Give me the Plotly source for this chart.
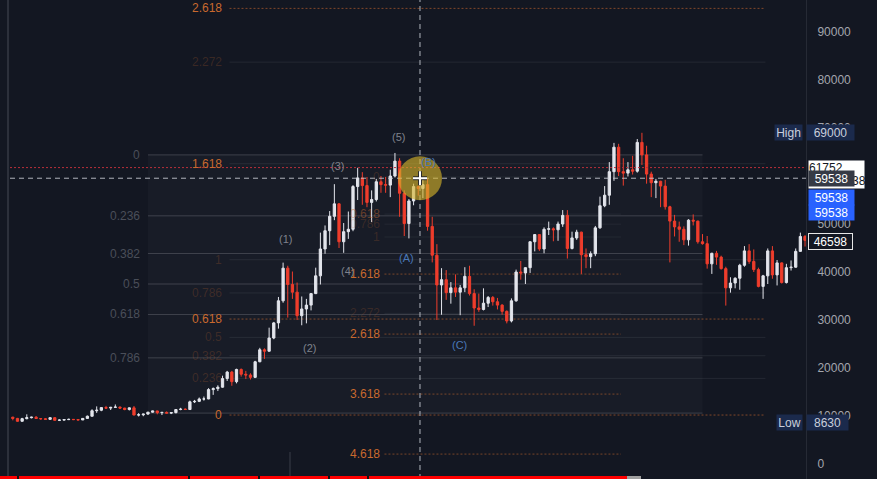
import plotly.graph_objects as go
import pandas as pd

BG = "#131722"
UP = "#e3e5ec"
DN = "#ef3d2c"
ORANGE = "#c9692e"
FONT = "Liberation Sans, Arial, sans-serif"

# ---------------- data: 4-day candles (center dates) ----------------
START = "2020-05-21"
FIRST_OPEN = 9750
CLOSE = [9500, 8900, 9450, 9650, 9750, 9480, 9420, 9300, 9650, 9100,
         9150, 9250, 9300, 9250, 9180, 9500, 9950, 11100, 11200, 11750,
         11650, 11800, 11850, 11650, 11350, 11700, 10200, 10250, 10400, 10800,
         11050, 10700, 10750, 10600, 10700, 11350, 11420, 11350, 12950, 13050,
         13550, 13550, 15500, 15700, 16000, 17800, 19150, 17150, 19700, 18700,
         18550, 18050, 21300, 23800, 23500, 26250, 29400, 34000, 40800, 37400,
         35800, 30900, 32300, 33100, 35500, 39200, 44800, 48600, 51600, 54200,
         46300, 48400, 48900, 57800, 59600, 58000, 54500, 55100, 58800, 58200,
         58100, 60000, 63100, 56400, 50100, 54800, 57800, 57400, 58200, 49500,
         43500, 37300, 38400, 35700, 36700, 35800, 36700, 39100, 35500, 32500,
         32200, 33500, 34700, 33800, 33100, 31800, 29800, 34000, 40000, 39800,
         40900, 46300, 47800, 44800, 48900, 49000, 48800, 50000, 51800, 44900,
         47100, 48300, 43600, 43200, 43800, 49200, 53800, 56000, 60900, 66000,
         60900, 60600, 61300, 61000, 67000, 64400, 60400, 58600, 58900, 57900,
         53600, 50600, 49400, 48900, 46700, 50800, 50600, 46300, 45900, 41700,
         43900, 43100, 40700, 36700, 37700, 38700, 41400, 44400, 42200, 40500,
         37000, 39200, 44400, 39400, 41900, 37800, 40900, 41000, 44300, 47400,
         46598]
HIGH = [9850, 9600, 9620, 10350, 9850, 9980, 9550, 9580, 9700, 9700,
        9300, 9350, 9450, 9340, 9300, 9550, 10100, 11400, 12000, 11800,
        12100, 11900, 12400, 12000, 11700, 11800, 12080, 10600, 10450, 10850,
        11100, 11100, 10850, 10950, 10750, 11450, 11700, 11600, 13200, 13350,
        13850, 14050, 15800, 15950, 16400, 18400, 19400, 19400, 19850, 19900,
        19400, 18900, 21500, 24200, 24100, 28400, 29600, 34800, 41950, 41300,
        40100, 37800, 34900, 34400, 35600, 40900, 48200, 49700, 52700, 58300,
        54300, 50200, 52600, 58100, 61700, 60800, 59800, 57000, 59400, 60000,
        59800, 61300, 64800, 63700, 57000, 55200, 58400, 58000, 59500, 59500,
        51500, 45800, 40800, 40400, 37900, 39500, 37300, 41000, 41300, 36400,
        35500, 36600, 35000, 35000, 34600, 33300, 32000, 34500, 40500, 42300,
        41000, 46400, 47900, 47900, 49300, 50500, 49300, 50500, 52900, 52900,
        48400, 48800, 48400, 44900, 44300, 49600, 55700, 57900, 62900, 66900,
        66700, 63700, 62900, 64200, 67700, 69000, 66300, 60900, 59400, 59000,
        59200, 53800, 51900, 50500, 49500, 51000, 52000, 50700, 47900, 47500,
        44000, 44400, 43400, 41100, 38900, 38900, 41700, 45400, 45800, 44700,
        40900, 39400, 44900, 45400, 42500, 42000, 41700, 42400, 44900, 48200,
        47700]
LOW = [9100, 8800, 8850, 9300, 9500, 9380, 9200, 9250, 9250, 9050,
       8950, 9050, 9150, 9150, 9100, 9150, 9450, 9900, 10650, 11000,
       11500, 11250, 11700, 11450, 11200, 11150, 10150, 9900, 9950, 10250,
       10700, 10350, 10200, 10550, 10400, 10550, 11200, 11250, 11300, 12700,
       12900, 13200, 13500, 14400, 15200, 15900, 17300, 16300, 16800, 18200,
       17700, 17600, 17900, 21200, 21900, 23400, 26000, 28200, 33600, 30500,
       34400, 30000, 28900, 29300, 32000, 35400, 37400, 43800, 45600, 50800,
       45000, 44000, 46900, 48500, 55000, 54000, 53500, 50400, 54700, 56500,
       56500, 55600, 59700, 51500, 47500, 47000, 53900, 55900, 55400, 48600,
       42000, 30000, 31100, 34200, 33400, 34800, 31000, 35800, 35100, 28800,
       31700, 32000, 32700, 33000, 32200, 31100, 29300, 29500, 33800, 38400,
       37500, 39800, 44300, 44400, 43900, 47700, 46400, 46500, 49400, 42800,
       44700, 46700, 39600, 40800, 40800, 43300, 49000, 53500, 54000, 59000,
       60000, 58000, 59900, 60300, 60700, 62300, 58400, 55600, 55400, 53500,
       53000, 42000, 47400, 46300, 45600, 45500, 49700, 45900, 45700, 40700,
       39600, 41500, 40500, 33000, 35700, 36600, 36300, 41100, 41700, 40000,
       36800, 34400, 37500, 38600, 37200, 37600, 37600, 40300, 40900, 44200,
       45300]

DATES = pd.date_range(START, periods=len(CLOSE), freq="4D")
OPEN = [FIRST_OPEN] + CLOSE[:-1]

X_RANGE = ["2020-05-10", "2022-04-01 20:00"]
Y_RANGE = [-3125, 96667]
Y_TICKS = [0, 10000, 20000, 30000, 40000, 50000, 60000, 70000, 80000, 90000]

# ---------------- drawing tools ----------------
FIB1_X = ["2020-09-14", "2022-01-03"]
FIB1_P0, FIB1_P1 = 64400, 10600
FIB1_LEVELS = [0, 0.236, 0.382, 0.5, 0.618, 0.786, 1]
FIB1_TEXT = ["0", "0.236", "0.382", "0.5", "0.618", "0.786", ""]

FIB2_X = ["2020-11-23", "2022-02-26"]
FIB2_P0, FIB2_P1 = 10200, 42560
FIB2_LEVELS = [0, 0.236, 0.382, 0.5, 0.618, 0.786, 1, 1.618, 2.272, 2.618]
FIB2_TEXT = ["0", "0.236", "0.382", "0.5", "0.618", "0.786", "1", "1.618", "2.272", "2.618"]
FIB2_BRIGHT_LABEL = [1, 0, 0, 0, 1, 0, 0, 1, 0, 1]
FIB2_BRIGHT_LINE = [1, 0, 0, 0, 1, 0, 0, 0, 0, 1]

FIB3_X = ["2021-04-05", "2021-10-25"]
FIB3_P0, FIB3_P1 = 59790, 47290
FIB3_LEVELS = [0, 0.618, 0.786, 1, 1.618, 2.272, 2.618, 3.618, 4.618]
FIB3_TEXT = ["0", "0.618", "0.786", "1", "1.618", "2.272", "2.618", "3.618", "4.618"]
FIB3_BRIGHT = [0, 0.5, 0, 0, 1, 0, 1, 1, 1]

WAVE_TEXT = ["(1)", "(2)", "(3)", "(4)", "(5)", "(A)", "(B)", "(C)"]
WAVE_DATES = ["2021-01-10", "2021-01-31", "2021-02-24", "2021-03-04",
              "2021-04-17", "2021-04-24", "2021-05-13", "2021-06-08"]
WAVE_PRICES = [46875, 24170, 62080, 40210, 68125, 42900, 62900, 24790]
WAVE_GROUP = ["impulse"] * 5 + ["corrective"] * 3

HIGH_VAL, LOW_VAL, LAST_VAL = 69000, 8630, 46598
ALERT_VAL = 61752
CROSS_VAL = 59538
CROSS_DATE = "2021-05-05 12:00"

fig = go.Figure()
fig.add_trace(go.Candlestick(
    x=DATES, open=OPEN, high=HIGH, low=LOW, close=CLOSE,
    increasing=dict(line=dict(color=UP, width=1), fillcolor=UP),
    decreasing=dict(line=dict(color=DN, width=1), fillcolor=DN),
    whiskerwidth=0, hoverinfo="skip", showlegend=False))

shapes = []
ann = []


def orange(a):
    return "rgba(201,105,46,%s)" % a


# fib 1 (grey retracement)
shapes.append(dict(type="rect", xref="x", yref="y", x0=FIB1_X[0], x1=FIB1_X[1],
                   y0=FIB1_P1, y1=FIB1_P0, fillcolor="rgba(255,255,255,0.022)",
                   line=dict(width=0), layer="below"))
for lv, tx in zip(FIB1_LEVELS, FIB1_TEXT):
    p = FIB1_P0 - lv * (FIB1_P0 - FIB1_P1)
    shapes.append(dict(type="line", xref="x", yref="y", x0=FIB1_X[0], x1=FIB1_X[1],
                       y0=p, y1=p, line=dict(color="rgba(125,128,138,0.38)", width=1),
                       layer="below"))
    if tx:
        ann.append(dict(x=FIB1_X[0], y=p, xref="x", yref="y", text=tx, showarrow=False,
                        xanchor="right", xshift=-6, font=dict(size=12, color="#4a4e59", family=FONT)))

# fib 2 (orange extension)
for lv, tx, bl, bline in zip(FIB2_LEVELS, FIB2_TEXT, FIB2_BRIGHT_LABEL, FIB2_BRIGHT_LINE):
    p = FIB2_P0 + lv * (FIB2_P1 - FIB2_P0)
    if bline:
        ln = dict(color=orange(0.6), width=1, dash="2px,2px")
    else:
        ln = dict(color="rgba(125,128,138,0.16)", width=1)
    shapes.append(dict(type="line", xref="x", yref="y", x0=FIB2_X[0], x1=FIB2_X[1],
                       y0=p, y1=p, line=ln, layer="below"))
    ann.append(dict(x=FIB2_X[0], y=p, xref="x", yref="y", text=tx, showarrow=False,
                    xanchor="right", xshift=-6,
                    font=dict(size=12, color=ORANGE if bl else orange(0.22), family=FONT)))

# fib 3 (orange extension, right)
for lv, tx, br in zip(FIB3_LEVELS, FIB3_TEXT, FIB3_BRIGHT):
    p = FIB3_P0 + lv * (FIB3_P1 - FIB3_P0)
    if br == 1:
        ln = dict(color=orange(0.55), width=1, dash="2px,2px")
    else:
        ln = dict(color="rgba(125,128,138,0.12)", width=1)
    shapes.append(dict(type="line", xref="x", yref="y", x0=FIB3_X[0], x1=FIB3_X[1],
                       y0=p, y1=p, line=ln, layer="below"))
    col = ORANGE if br == 1 else (orange(0.45) if br else orange(0.2))
    ann.append(dict(x=FIB3_X[0], y=p, xref="x", yref="y", text=tx, showarrow=False,
                    xanchor="right", xshift=-2, font=dict(size=12, color=col, family=FONT)))

# wave labels
for tx, d, p, g in zip(WAVE_TEXT, WAVE_DATES, WAVE_PRICES, WAVE_GROUP):
    ann.append(dict(x=d, y=p, xref="x", yref="y", text=tx, showarrow=False,
                    font=dict(size=11, color="#7f828c" if g == "impulse" else "#4a78b8",
                              family=FONT)))

# left border line & misc
shapes.append(dict(type="line", xref="paper", yref="paper", x0=8 / 806, x1=8 / 806, y0=0, y1=1,
                   line=dict(color="#2c303b", width=2)))
shapes.append(dict(type="line", xref="paper", yref="paper", x0=290 / 806, x1=290 / 806, y0=0,
                   y1=27 / 479, line=dict(color="#3a3e49", width=1)))

# alert red dotted line and crosshair
shapes.append(dict(type="line", xref="paper", yref="y", x0=10 / 806, x1=1, y0=ALERT_VAL, y1=ALERT_VAL,
                   line=dict(color="#b8303a", width=1, dash="2px,2px")))
shapes.append(dict(type="line", xref="paper", yref="y", x0=10 / 806, x1=1, y0=CROSS_VAL, y1=CROSS_VAL,
                   line=dict(color="rgba(205,208,216,0.85)", width=1, dash="5px,4px")))
shapes.append(dict(type="line", xref="x", yref="paper", x0=CROSS_DATE, x1=CROSS_DATE, y0=0, y1=1,
                   line=dict(color="rgba(205,208,216,0.85)", width=1, dash="5px,4px")))
shapes.append(dict(type="circle", xref="x", yref="y", xsizemode="pixel", ysizemode="pixel",
                   xanchor=CROSS_DATE, yanchor=CROSS_VAL, x0=-22, x1=22, y0=-22, y1=22,
                   fillcolor="rgba(214,180,42,0.62)", line=dict(width=0)))
for w, c in ((4, "#2a2a2a"), (2, "#ffffff")):
    shapes.append(dict(type="line", xref="x", yref="y", xsizemode="pixel", xanchor=CROSS_DATE,
                       x0=-7, x1=7, y0=CROSS_VAL, y1=CROSS_VAL, line=dict(color=c, width=w)))
    shapes.append(dict(type="line", xref="x", yref="y", ysizemode="pixel", yanchor=CROSS_VAL,
                       x0=CROSS_DATE, x1=CROSS_DATE, y0=-7, y1=7, line=dict(color=c, width=w)))

# youtube progress bar
shapes.append(dict(type="rect", xref="paper", yref="paper", x0=0, x1=627 / 806, y0=0, y1=3 / 479,
                   fillcolor="#ff0000", line=dict(width=0)))
shapes.append(dict(type="rect", xref="paper", yref="paper", x0=627 / 806, x1=641 / 806, y0=0,
                   y1=3 / 479, fillcolor="#a0a0a0", line=dict(width=0)))
for gx in (17, 188, 258, 328, 367):
    shapes.append(dict(type="rect", xref="paper", yref="paper", x0=gx / 806, x1=(gx + 2) / 806,
                       y0=0, y1=3 / 479, fillcolor="#111111", line=dict(width=0)))


def axis_label(text, price, bg, fg, width, xanchor="left", xshift=0, yshift=0,
               border=None, align="center"):
    d = dict(xref="paper", x=1, yref="y", y=price, text=text, showarrow=False,
             xanchor=xanchor, xshift=xshift, yshift=yshift, bgcolor=bg, width=width,
             height=15, borderpad=0, align=align,
             font=dict(size=12, color=fg, family=FONT))
    if border:
        d.update(bordercolor=border, borderwidth=1)
    return d


ann.append(axis_label("High", HIGH_VAL, "#1b2a4c", "#c9cfdc", 27, xanchor="right", xshift=-3))
ann.append(axis_label(f"{HIGH_VAL}", HIGH_VAL, "#1b2a4c", "#c9cfdc", 47, xshift=0))
ann.append(dict(xref="paper", x=1, yref="y", y=ALERT_VAL, text=f"{ALERT_VAL}", showarrow=False,
                xanchor="left", xshift=2, yshift=-7, bgcolor="#ffffff", width=55, height=27,
                borderpad=0, align="left", valign="top",
                font=dict(size=12, color="#131722", family=FONT)))
ann.append(dict(xref="paper", x=1, yref="y", y=CROSS_VAL, text=f"{CROSS_VAL}", showarrow=False,
                xanchor="left", xshift=24, yshift=-3, font=dict(size=12, color="#131722", family=FONT)))
ann.append(axis_label(f"{CROSS_VAL}", CROSS_VAL, "#363a45", "#ffffff", 45, xshift=2))
ann.append(axis_label(f"{CROSS_VAL}", CROSS_VAL, "#2962ff", "#ffffff", 45, xshift=2, yshift=-19))
ann.append(axis_label(f"{CROSS_VAL}", CROSS_VAL, "#2962ff", "#ffffff", 45, xshift=2, yshift=-34))
ann.append(axis_label(f"{LAST_VAL}", LAST_VAL, BG, "#ffffff", 43, xshift=2, yshift=-1,
                      border="#e6e6e6"))
ann.append(axis_label("Low", LOW_VAL, "#1b2a4c", "#c9cfdc", 25, xanchor="right", xshift=-3))
ann.append(axis_label(f"{LOW_VAL}", LOW_VAL, "#1b2a4c", "#c9cfdc", 41, xshift=0))

fig.update_layout(
    width=877, height=479,
    margin=dict(l=0, r=71, t=0, b=0),
    paper_bgcolor=BG, plot_bgcolor=BG,
    showlegend=False, hovermode=False,
    shapes=shapes, annotations=ann,
    xaxis=dict(type="date", range=X_RANGE, visible=False, rangeslider=dict(visible=False),
               showgrid=False, zeroline=False),
    yaxis=dict(side="right", range=Y_RANGE, tickvals=Y_TICKS,
               ticktext=[str(v) for v in Y_TICKS], showgrid=False, zeroline=False,
               ticks="", ticklabelstandoff=8, showline=True, linecolor="#262a35", linewidth=1,
               tickfont=dict(size=12, color="#a3a6ae", family=FONT)),
)

fig.write_html(
    "out.html",
    config={"displayModeBar": False, "staticPlot": True},
    post_script="document.body.style.margin='0';document.body.style.overflow='hidden';"
                "document.body.style.background='#131722';",
)
